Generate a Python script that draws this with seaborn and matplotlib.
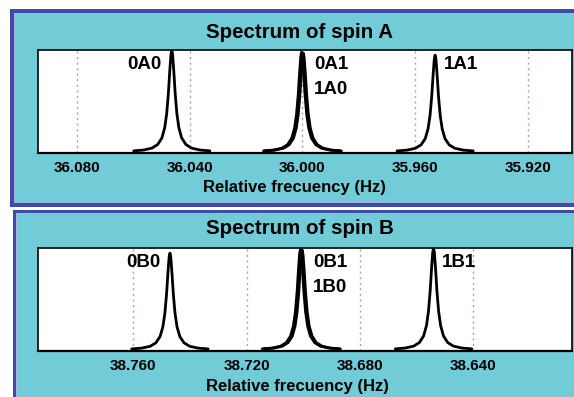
import numpy as np
import pandas as pd
import seaborn as sns
import matplotlib
matplotlib.use("Agg")
import matplotlib.pyplot as plt
from matplotlib.patches import Rectangle
from matplotlib.transforms import blended_transform_factory

# peak data
peaks_a = [36.0463, 36.0003, 35.9997, 35.9530]
heights_a = [1.00, 0.98, 0.97, 0.95]
peaks_b = [38.7471, 38.7010, 38.7004, 38.6540]
heights_b = [0.95, 0.99, 0.98, 1.00]
ticks_a = [36.080, 36.040, 36.000, 35.960, 35.920]
ticks_b = [38.760, 38.720, 38.680, 38.640]
labels_a = ["0A0", "0A1", "1A0", "1A1"]
labels_b = ["0B0", "0B1", "1B0", "1B1"]

# half line shape of one peak (offset in Hz, relative height)
shape_offset = [0.0, 0.0003, 0.0007, 0.0012, 0.0018, 0.0025, 0.0035, 0.005, 0.007, 0.010, 0.0135]
shape_height = [1.0, 0.956, 0.80, 0.576, 0.377, 0.239, 0.138, 0.073, 0.038, 0.019, 0.011]

W, H = 574, 397
BLUE = "#3d4ca6"
LAV = "#a9b0e6"
CYAN = "#72ccd7"
GRID = "#c49a96"

sns.set_style("white")
plt.rcParams["font.family"] = ["Liberation Sans", "DejaVu Sans"]
plt.rcParams["font.weight"] = "bold"
plt.rcParams["text.color"] = "black"
plt.rcParams["xtick.color"] = "black"

fig = plt.figure(figsize=(W / 100, H / 100), dpi=100)
fig.patch.set_facecolor("white")


def box(x0, y0, x1, y1, color):
    # pixel box (top-left origin) drawn in figure fraction
    fig.add_artist(Rectangle((x0 / W, 1 - y1 / H), (x1 - x0) / W, (y1 - y0) / H,
                             transform=fig.transFigure, facecolor=color,
                             edgecolor="none", zorder=-10))


# panel frames
box(10, 9, W, 207, BLUE)
box(14, 13, W, 203, LAV)
box(15, 14, W, 202, CYAN)
box(13, 210, W, H, BLUE)
box(16, 213, W, H, LAV)
box(17, 214, W, H, CYAN)


def panel(top, peaks, heights, ticks, labels, title, xlim, title_y, xlabel_x, xlabel_y):
    left, right, bottom = 38, 572, top + 103
    ax = fig.add_axes([left / W, 1 - bottom / H, (right - left) / W, (bottom - top) / H])
    ax.set_facecolor("white")

    rows = []
    for i, (c, h) in enumerate(zip(peaks, heights)):
        offs = [-o for o in shape_offset[::-1]] + shape_offset[1:]
        hs = shape_height[::-1] + shape_height[1:]
        for o, v in zip(offs, hs):
            rows.append({"peak": i, "freq": c + o, "amp": v * h})
    df = pd.DataFrame(rows)
    sns.lineplot(data=df, x="freq", y="amp", units="peak", estimator=None,
                 sort=False, color="black", lw=2.0, ax=ax)

    ax.set_xlim(*xlim)
    ax.set_ylim(-0.01, 1.0)
    ax.set_yticks([])
    ax.set_xticks(ticks)
    ax.set_xticklabels([f"{t:.3f}" for t in ticks], fontsize=11, fontweight="bold")
    ax.tick_params(axis="x", direction="out", length=3, width=0.8, pad=3.0, colors="black")
    for t in ticks:
        ax.axvline(t, color=GRID, ls=(0, (1.5, 2.5)), lw=1.0, zorder=0)
    for s in ax.spines.values():
        s.set_color("black")
        s.set_linewidth(1.2)
    ax.spines["bottom"].set_linewidth(1.6)
    ax.set_xlabel("")
    ax.set_ylabel("")

    tr = blended_transform_factory(ax.transData, ax.transAxes)
    ax.text(peaks[0] + 0.0035, 0.86, labels[0], transform=tr, ha="right", va="center",
            fontsize=13.5, fontweight="bold")
    ax.text(peaks[1] - 0.0045, 0.86, labels[1], transform=tr, ha="left", va="center",
            fontsize=13.5, fontweight="bold")
    ax.text(peaks[1] - 0.0045, 0.62, labels[2], transform=tr, ha="left", va="center",
            fontsize=13.5, fontweight="bold")
    ax.text(peaks[3] - 0.0030, 0.86, labels[3], transform=tr, ha="left", va="center",
            fontsize=13.5, fontweight="bold")

    fig.text(300 / W, 1 - title_y / H, title, ha="center", va="center",
             fontsize=14.8, fontweight="bold")
    fig.text(xlabel_x / W, 1 - xlabel_y / H, "Relative frecuency (Hz)", ha="center",
             va="center", fontsize=12, fontweight="bold")
    return ax


panel(50, peaks_a, heights_a, ticks_a, labels_a, "Spectrum of spin A",
      (36.0937, 35.9045), 32, 294, 188)
panel(248, peaks_b, heights_b, ticks_b, labels_b, "Spectrum of spin B",
      (38.7937, 38.6051), 229, 297, 387)

fig.savefig("out.png", dpi=100)
